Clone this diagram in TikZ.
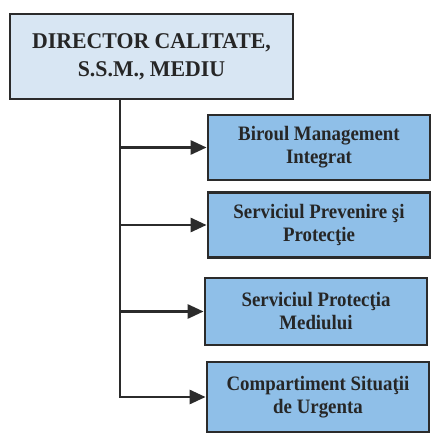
\documentclass[tikz,border=0pt]{standalone}
\usepackage{fontspec}
\setmainfont{Liberation Serif}
\newfontfamily\subfont[FakeStretch=0.92]{Liberation Serif}
\newfontfamily\topfont[FakeStretch=0.97]{Liberation Serif}
\usetikzlibrary{arrows.meta}
\definecolor{topfill}{HTML}{D8E6F3}
\definecolor{subfill}{HTML}{8FBFE8}
\definecolor{edgecol}{HTML}{2B2B2B}
\begin{document}
\begin{tikzpicture}[x=1pt,y=-1pt,
  topbox/.style={draw=edgecol, line width=2.8pt, fill=topfill, inner sep=0pt,
    minimum width=283pt, minimum height=85pt, align=center,
    font=\topfont\fontsize{22.5}{28}\selectfont\bfseries, text=black!85},
  subbox/.style={draw=edgecol, line width=2.8pt, fill=subfill, inner sep=0pt,
    minimum width=222pt, minimum height=65pt, align=center,
    font=\subfont\fontsize{20.5}{23}\selectfont\bfseries, text=black!85},
  link/.style={draw=edgecol, line width=2.8pt, -{Triangle[length=16pt,width=14pt]}}]
\useasboundingbox (0,0) rectangle (431,435);
\node[topbox] (dir) at (151.5,56.5) {DIRECTOR CALITATE,\\S.S.M., MEDIU};
\node[subbox] (b1) at (319,147.5) {Biroul Management\\Integrat};
\node[subbox] (b2) at (319,225) {Serviciul Prevenire şi\\Protecţie};
\node[subbox, minimum height=67pt] (b3) at (316,311.5) {Serviciul Protecţia\\Mediului};
\node[subbox, minimum height=70pt] (b4) at (318,397) {Compartiment Situaţii\\de Urgenta};
\path (dir.south) ++(-31.5,0) coordinate (tr);
\draw[link] (tr) |- (b4.west);
\draw[link] (tr |- b1.west) -- (b1.west);
\draw[link] (tr |- b2.west) -- (b2.west);
\draw[link] (tr |- b3.west) -- (b3.west);
\end{tikzpicture}
\end{document}
